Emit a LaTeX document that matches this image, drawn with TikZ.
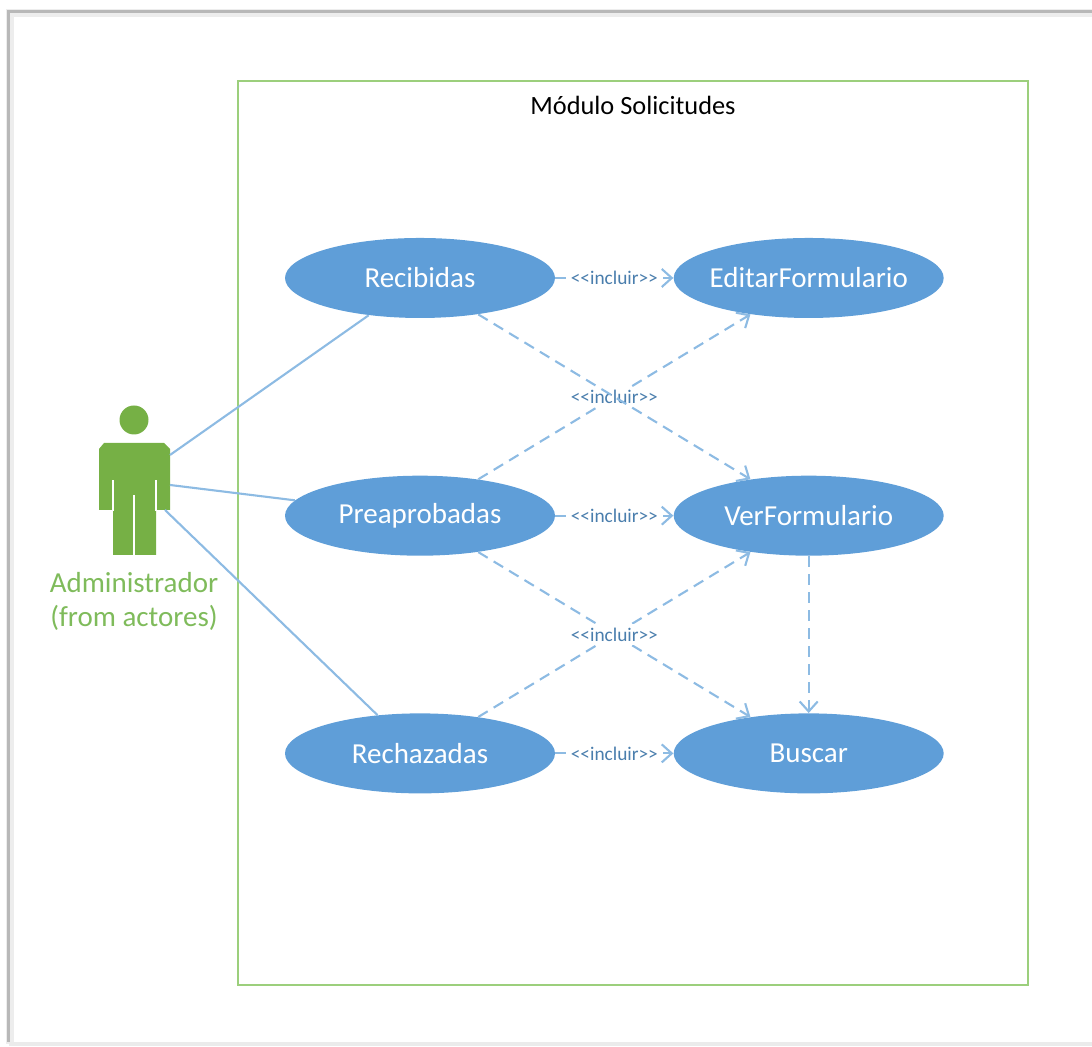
\documentclass[tikz,border=0pt]{standalone}
\usepackage{fontspec}
\setmainfont{Carlito}
\usetikzlibrary{positioning}
\usetikzlibrary{shapes.geometric}
\usetikzlibrary{arrows.meta}
\colorlet{Frame}{black!28}
\definecolor{CaseBlue}{HTML}{5F9ED8}
\definecolor{LineBlue}{HTML}{8DBBE3}
\definecolor{TextBlue}{HTML}{4A7EAD}
\definecolor{ActorGreen}{HTML}{76B045}
\definecolor{BoxGreen}{HTML}{9CCF7C}
\definecolor{NameGreen}{HTML}{7FBB5B}
\tikzset{
    usecase/.style={ellipse, fill=CaseBlue, text=white, minimum width=5.4cm, minimum height=1.6cm, inner sep=-0.1cm, font=\fontsize{16.5}{20}\selectfont},
    assoc/.style={LineBlue, line width=1.2pt},
    incl/.style={LineBlue, line width=1.2pt, dash pattern=on 0.22cm off 0.14cm, -{Straight Barb[length=0.2cm, width=0.36cm]}},
    incllabel/.style={text=TextBlue, inner sep=2pt, font=\fontsize{11}{13}\selectfont}
}

\begin{document}
\begin{tikzpicture}
        \useasboundingbox (0,0) rectangle (21.84,20.94);
        % page edge
        \draw[black!7, line width=4.5pt] (0.2,0.06) -- (0.2,20.68) -- (21.84,20.68);
        \draw[Frame, line width=2pt] (0.17,0.1) -- (0.17,20.71) -- (21.84,20.71);
        \draw[black!8, line width=2pt] (0.18,0.06) -- (21.84,0.06);

        \node[draw=BoxGreen, line width=1.1pt, minimum width=15.8cm, minimum height=18.08cm, inner sep=0pt] (Modulo) at (12.66,10.28) {};
        \node[below=0.2cm of Modulo.north, font=\fontsize{15}{18}\selectfont] (Titulo) {Módulo Solicitudes};

        \node[usecase] (Rec) at (8.4,15.38) {Recibidas};
        \node[usecase, below=3.14cm of Rec] (Pre) {Preaprobadas};
        \node[usecase, below=3.14cm of Pre] (Rech) {Rechazadas};
        \node[usecase, right=2.36cm of Rec] (Edit) {EditarFormulario};
        \node[usecase, right=2.36cm of Pre] (Ver) {VerFormulario};
        \node[usecase, right=2.36cm of Rech] (Bus) {Buscar};

        % actor
        \node[circle, fill=ActorGreen, minimum size=0.58cm, inner sep=0pt] (Head) at (2.68,12.54) {};
        \node[minimum width=1.42cm, minimum height=2.24cm, inner sep=0pt, below=0.18cm of Head] (Actor) {};
        \fill[ActorGreen] (2.08,12.08) -- (3.28,12.08) -- (3.4,11.96) -- (3.4,10.74) -- (3.12,10.74) -- (3.12,9.84) -- (2.26,9.84) -- (2.26,10.74) -- (1.98,10.74) -- (1.98,11.96) -- cycle;
        \draw[white, line width=0.7pt] (2.26,10.72) -- (2.26,11.34);
        \draw[white, line width=0.7pt] (3.12,10.72) -- (3.12,11.34);
        \draw[white, line width=0.7pt] (2.68,9.84) -- (2.68,11.04);
        \node[below=0.2cm of Actor, text=NameGreen, align=center, font=\fontsize{16.5}{19.4}\selectfont] (Nombre) {Administrador\\(from actores)};

        \coordinate (A1) at (3.4,11.84);
        \coordinate (A2) at (3.4,11.24);
        \coordinate (A3) at (3.3,10.74);

        % edges (actor)
        \draw[assoc] (A1) -- (Rec.216);
        \draw[assoc] (A2) -- (Pre.173);
        \draw[assoc] (A3) -- (Rech.138);

        % edges (include)
        \draw[incl] (Rec) -- node[incllabel, fill=white] (L1) {<{}<incluir>{}>} (Edit);
        \draw[incl] (Pre) -- node[incllabel, fill=white] (L3) {<{}<incluir>{}>} (Ver);
        \draw[incl] (Rech) -- node[incllabel, fill=white] (L5) {<{}<incluir>{}>} (Bus);
        \draw[incl] (Pre.32) -- node[incllabel, fill=white] (L2) {<{}<incluir>{}>} (Edit.-148);
        \draw[incl] (Rec.-32) -- (Ver.148);
        \draw[incl] (Pre.-32) -- (Bus.148);
        \draw[incl] (Rech.32) -- node[incllabel, fill=white] (L4) {<{}<incluir>{}>} (Ver.-148);
        \draw[incl] (Ver) -- (Bus);
    \end{tikzpicture}
\end{document}
